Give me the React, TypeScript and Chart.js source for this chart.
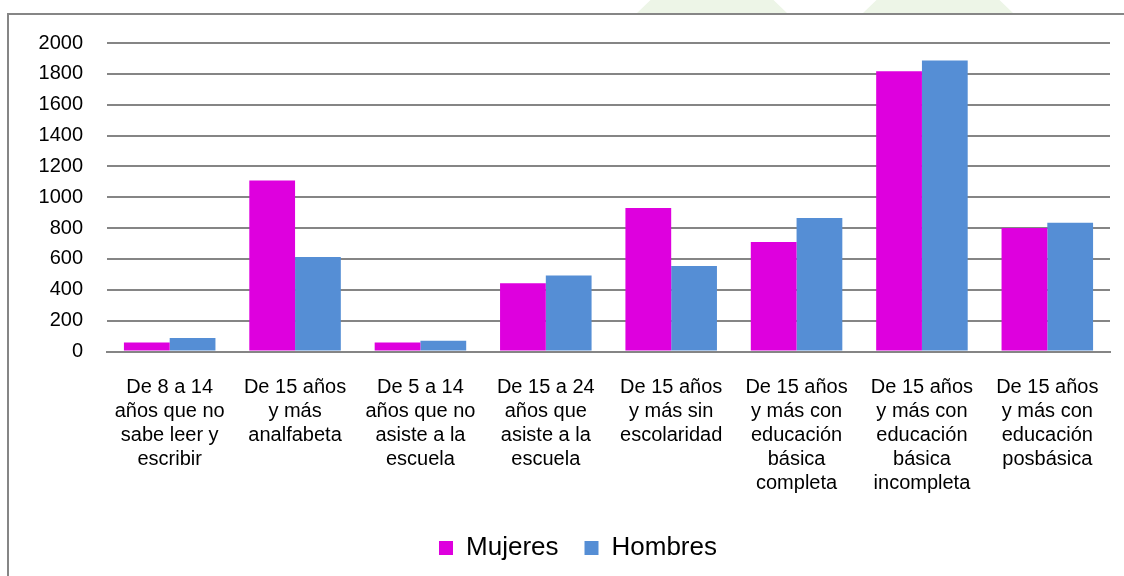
import React, { useEffect, useRef } from "react";
import { Chart, registerables } from "chart.js";

Chart.register(...registerables);

const categories: string[][] = [
  ["De 8 a 14", "años que no", "sabe leer y", "escribir"],
  ["De 15 años", "y más", "analfabeta"],
  ["De 5 a 14", "años que no", "asiste a la", "escuela"],
  ["De 15 a 24", "años que", "asiste a la", "escuela"],
  ["De 15 años", "y más sin", "escolaridad"],
  ["De 15 años", "y más con", "educación", "básica", "completa"],
  ["De 15 años", "y más con", "educación", "básica", "incompleta"],
  ["De 15 años", "y más con", "educación", "posbásica"],
];

const mujeres: number[] = [59, 1108, 59, 443, 931, 710, 1817, 801];
const hombres: number[] = [87, 612, 70, 493, 554, 866, 1887, 834];

const yTicks: number[] = [0, 200, 400, 600, 800, 1000, 1200, 1400, 1600, 1800, 2000];

const FONT = "'Liberation Sans', Arial, sans-serif";

const legendShift = {
  id: "legendShift",
  afterLayout(chart: any) {
    const lg = chart.legend;
    if (lg) {
      lg.left = 37;
    }
  },
};

export default function App() {
  const ref = useRef<HTMLCanvasElement | null>(null);

  useEffect(() => {
    if (!ref.current) return;
    const chart = new Chart(ref.current, {
      type: "bar",
      data: {
        labels: categories,
        datasets: [
          {
            label: "Mujeres",
            data: mujeres,
            backgroundColor: "#DE00DE",
            categoryPercentage: 0.73,
            barPercentage: 1,
          },
          {
            label: "Hombres",
            data: hombres,
            backgroundColor: "#558ED5",
            categoryPercentage: 0.73,
            barPercentage: 1,
          },
        ],
      },
      plugins: [legendShift],
      options: {
        animation: false,
        responsive: false,
        devicePixelRatio: 1,
        layout: { padding: { left: 0, right: 14, top: 28, bottom: 5 } },
        plugins: {
          tooltip: { enabled: false },
          legend: {
            position: "bottom",
            labels: {
              boxWidth: 14,
              boxHeight: 14,
              padding: 26,
              color: "#000",
              font: { family: FONT, size: 26 },
            },
          },
        },
        scales: {
          x: {
            grid: { display: false, drawTicks: false },
            border: { display: true, color: "#858585", width: 2 },
            ticks: {
              autoSkip: false,
              maxRotation: 0,
              minRotation: 0,
              padding: 24,
              color: "#000",
              font: { family: FONT, size: 20, lineHeight: 1.2 },
            },
            afterFit: (scale: any) => {
              scale.height = 157.5;
            },
          },
          y: {
            min: 0,
            max: 2000,
            afterBuildTicks: (scale: any) => {
              scale.ticks = yTicks.map((v) => ({ value: v }));
            },
            grid: {
              color: "#858585",
              lineWidth: 2,
              drawTicks: true,
              tickLength: 24,
              tickColor: "rgba(0,0,0,0)",
            },
            border: { display: false },
            ticks: {
              padding: 0,
              color: "#000",
              font: { family: FONT, size: 20 },
              callback: (v: any) => String(v),
            },
            afterFit: (scale: any) => {
              scale.width = 98;
            },
          },
        },
      },
    });
    return () => chart.destroy();
  }, []);

  return (
    <div>
      <div
        style={{
          position: "absolute",
          left: 637,
          top: 0,
          width: 150,
          height: 13,
          background: "#edf5e7",
          clipPath: "polygon(9% 0, 91% 0, 100% 100%, 0 100%)",
        }}
      />
      <div
        style={{
          position: "absolute",
          left: 863,
          top: 0,
          width: 150,
          height: 13,
          background: "#edf5e7",
          clipPath: "polygon(9% 0, 91% 0, 100% 100%, 0 100%)",
        }}
      />
      <div
        style={{
          position: "absolute",
          left: 7,
          top: 13,
          width: 1117,
          height: 563,
          borderTop: "2px solid #868686",
          borderLeft: "2px solid #868686",
          boxSizing: "border-box",
          background: "#fff",
          overflow: "hidden",
        }}
      >
        <canvas
          ref={ref}
          width={1115}
          height={561}
          style={{ position: "absolute", left: 0, top: 0, width: 1115, height: 561 }}
        />
      </div>
    </div>
  );
}
